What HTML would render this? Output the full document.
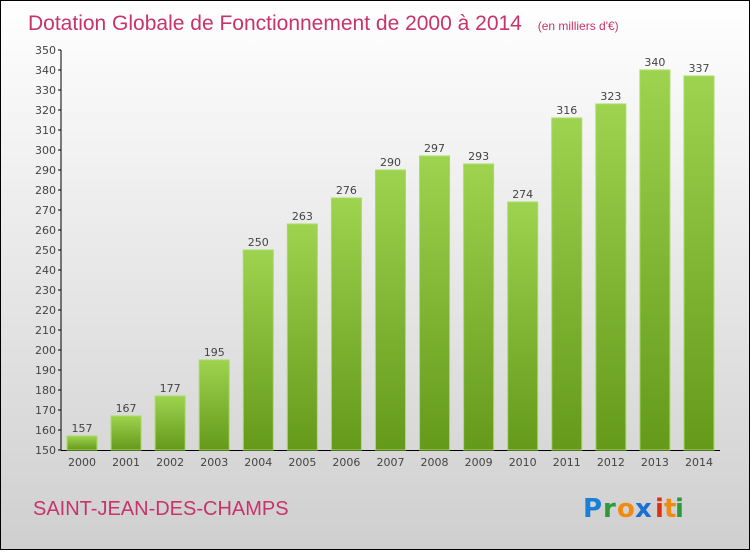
<!DOCTYPE html>
<html><head><meta charset="utf-8"><style>
html,body{margin:0;padding:0}
body{width:750px;height:550px;overflow:hidden;font-family:"DejaVu Sans","Liberation Sans",sans-serif}
</style></head><body>
<svg width="750" height="550" xmlns="http://www.w3.org/2000/svg">
<defs>
<linearGradient id="bg" x1="0" y1="0" x2="0" y2="1"><stop offset="0" stop-color="#ffffff"/><stop offset="1" stop-color="#cfcfcf"/></linearGradient>
<linearGradient id="bar" x1="0" y1="0" x2="0" y2="1"><stop offset="0" stop-color="#9ed34f"/><stop offset="1" stop-color="#64991a"/></linearGradient>
</defs>
<rect x="0.5" y="0.5" width="749" height="549" fill="url(#bg)" stroke="#000"/>
<text x="28" y="30" font-size="21" font-family="'Liberation Sans',sans-serif" fill="#c8336a">Dotation Globale de Fonctionnement de 2000 à 2014 <tspan font-size="12" dx="10">(en milliers d'€)</tspan></text>
<g id="axes"></g>
<g id="bars"></g>
<text x="33" y="515" font-size="20" font-family="'Liberation Sans',sans-serif" fill="#c8336a">SAINT-JEAN-DES-CHAMPS</text>
<g font-size="26" font-family="'DejaVu Sans',sans-serif" font-weight="bold">
<text x="583" y="517" fill="#1a7fd6">P</text><text x="603" y="517" fill="#2a9a3a">r</text><text x="617" y="517" fill="#f08a10">o</text><text x="635" y="517" fill="#1a6fcf">x</text><text x="655" y="517" fill="#e03010">i</text><text x="664" y="517" fill="#f08a10">t</text><text x="675" y="517" fill="#2a9a3a">i</text>
</g>
</svg>
<script>
const years=["2000","2001","2002","2003","2004","2005","2006","2007","2008","2009","2010","2011","2012","2013","2014"];
const values=[157,167,177,195,250,263,276,290,297,293,274,316,323,340,337];
const yTicks=[150,160,170,180,190,200,210,220,230,240,250,260,270,280,290,300,310,320,330,340,350];
const NS="http://www.w3.org/2000/svg";
const y=v=>450-(v-150)*2;
const x=i=>82+i*44.07;
function mk(t,a,p){const e=document.createElementNS(NS,t);for(const k in a)e.setAttribute(k,a[k]);p.appendChild(e);return e;}
const ax=document.getElementById('axes'),bg=document.getElementById('bars');
let l=mk('line',{x1:61,y1:50,x2:61,y2:450,stroke:'#000'},ax);


l=mk('line',{x1:61,y1:450.5,x2:720,y2:450.5,stroke:'#000'},ax);


yTicks.forEach(v=>{
 mk('line',{x1:58,y1:y(v),x2:61,y2:y(v),stroke:'#000'},ax);
 const t=mk('text',{x:56,y:y(v)+4,'text-anchor':'end','font-size':11,fill:'#444'},ax);t.textContent=v;
 
 
});
years.forEach((yr,i)=>{
 const v=values[i];
 const r=mk('rect',{x:x(i)-15,y:y(v),width:30,height:450-y(v),fill:'url(#bar)',stroke:'#a8dc60','stroke-width':1},bg);
 
 
 const t=mk('text',{x:x(i),y:y(v)-4,'text-anchor':'middle','font-size':11,fill:'#444'},bg);t.textContent=v;
 
 
 const xl=mk('text',{x:x(i),y:466,'text-anchor':'middle','font-size':11,fill:'#444'},ax);xl.textContent=yr;
 
 
});
</script>
</body></html>
